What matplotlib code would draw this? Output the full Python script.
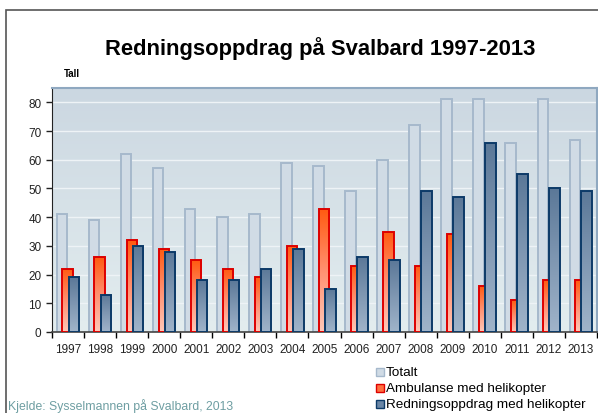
import numpy as np
import matplotlib
matplotlib.use('Agg')
from matplotlib import pyplot as plt
from matplotlib.colors import LinearSegmentedColormap
from matplotlib.patches import Rectangle

plt.rcParams['font.family'] = ['Liberation Sans', 'DejaVu Sans']

# ----- Data ----- #
years = ['1997', '1998', '1999', '2000', '2001', '2002', '2003', '2004', '2005',
         '2006', '2007', '2008', '2009', '2010', '2011', '2012', '2013']
totalt = [41, 39, 62, 57, 43, 40, 41, 59, 58, 49, 60, 72, 81, 81, 66, 81, 67]
ambulanse = [22, 26, 32, 29, 25, 22, 19, 30, 43, 23, 35, 23, 34, 16, 11, 18, 18]
redning = [19, 13, 30, 28, 18, 18, 22, 29, 15, 26, 25, 49, 47, 66, 55, 50, 49]
labels = ['Totalt', 'Ambulanse med helikopter', 'Redningsoppdrag med helikopter']

ymax = 85.0
x = np.arange(len(years))
w = 0.33

fig = plt.figure(figsize=(5.98, 4.14), dpi=100)
ax = fig.add_axes([52/598, 1-333/414, 545/598, 244/414])

# outer frame of the slide
fig.patches.append(Rectangle((6/598, -0.1), 1.2, 1-11/414+0.1, transform=fig.transFigure,
                             fill=False, edgecolor='#555555', linewidth=1.2))

# plot area background gradient
bg = LinearSegmentedColormap.from_list('bg', ['#e3edef', '#cbd7e1'])
grad = np.linspace(0, 1, 256).reshape(-1, 1)
ax.imshow(grad, cmap=bg, origin='lower', aspect='auto',
          extent=[-0.5, len(years)-0.5, 0, ymax], zorder=0)

for yv in np.arange(10, 90, 10):
    ax.axhline(yv, color='#eef3f6', linewidth=1.0, zorder=1)

red_cm = LinearSegmentedColormap.from_list('red', ['#ffc8b8', '#ff9070', '#ff5a10'])
blue_cm = LinearSegmentedColormap.from_list('blue', ['#a0b4ca', '#7f97b2', '#5b7898'])


def grad_bars(xpos, vals, cmap, edge, z):
    bars = ax.bar(xpos, vals, width=w, facecolor='none', edgecolor=edge,
                  linewidth=1.4, zorder=z+0.5)
    for b in bars:
        bx, by = b.get_x(), b.get_y()
        bw, bh = b.get_width(), b.get_height()
        im = ax.imshow(grad, cmap=cmap, origin='lower', aspect='auto',
                       extent=[bx, bx+bw, by, by+bh], zorder=z)
        clip = Rectangle((bx, by), bw, bh, transform=ax.transData)
        im.set_clip_path(clip)
    return bars


ax.bar(x-0.19, totalt, width=w, facecolor='#d0dbe5', edgecolor='#a6b9cc',
       linewidth=1.4, zorder=2)
grad_bars(x-0.01, ambulanse, red_cm, '#dd0000', 3)
grad_bars(x+0.18, redning, blue_cm, '#0c3a68', 4)

ax.set_xlim(-0.5, len(years)-0.5)
ax.set_ylim(0, ymax)
ax.set_yticks(np.arange(0, 90, 10))
ax.set_xticks(x)
ax.set_xticklabels(years)
ax.set_xticks(np.arange(-0.5, len(years), 1.0), minor=True)
ax.tick_params(axis='x', which='major', length=0, labelsize=8.5, pad=8, colors='#222222')
ax.tick_params(axis='x', which='minor', length=4, width=1, direction='out')
ax.tick_params(axis='y', labelsize=8.5, length=4, width=1, colors='#222222')

for s in ['top', 'right']:
    ax.spines[s].set_color('#8fa8c0')
    ax.spines[s].set_linewidth(1.5)
ax.spines['left'].set_color('#222222')
ax.spines['bottom'].set_color('#444444')
ax.spines['bottom'].set_linewidth(1.2)

fig.text(0.535, 1-49/414, 'Redningsoppdrag på Svalbard 1997-2013', ha='center', va='center',
         fontsize=15.8, fontweight='bold')
fig.text(64/598, 1-74/414, 'Tall', ha='left', va='center', fontsize=7, fontweight='bold')
fig.text(8/598, 1-406/414, 'Kjelde: Sysselmannen på Svalbard, 2013', ha='left', va='center',
         fontsize=8.8, color='#6e9ea2')

# legend
leg_fc = ['#d0dbe5', '#ff7040', '#6a86a6']
leg_ec = ['#a6b9cc', '#dd0000', '#0c3a68']
for k in range(3):
    yk = 1 - (373 + 16*k)/414
    fig.patches.append(Rectangle((376/598, yk-4/414), 8/598, 8/414, transform=fig.transFigure,
                                 facecolor=leg_fc[k], edgecolor=leg_ec[k], linewidth=1.0))
    fig.text(386/598, yk, labels[k], ha='left', va='center', fontsize=9.7)

plt.savefig('out.png', dpi=100)
plt.close()
